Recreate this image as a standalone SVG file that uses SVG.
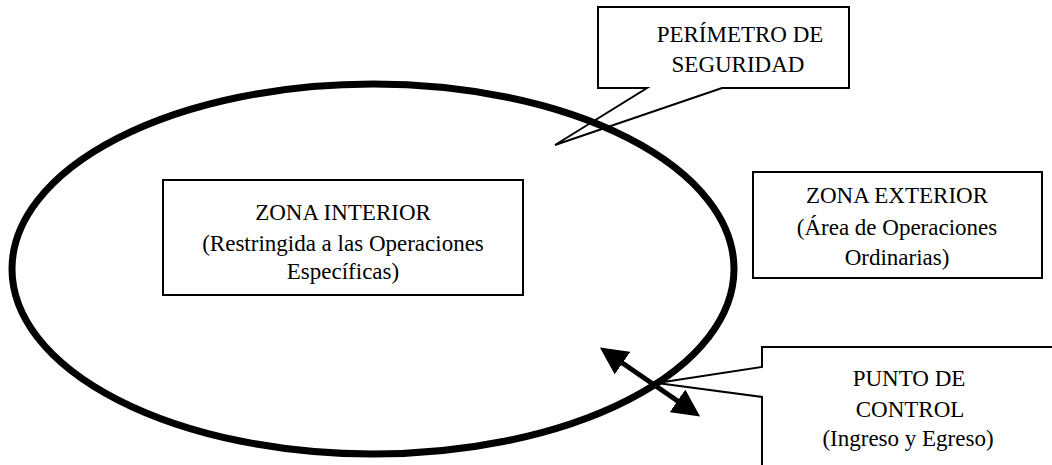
<svg xmlns="http://www.w3.org/2000/svg" width="1052" height="465" viewBox="0 0 1052 465" font-family="'Liberation Serif', 'Times New Roman', serif">
<style>
.box{fill:#fff;stroke:#000;stroke-width:2}
.callout{fill:none;stroke:#000;stroke-width:2;stroke-linejoin:miter}
.t{font-family:'Liberation Serif','Times New Roman',serif;font-size:23px;fill:#000;text-anchor:middle}
</style>
<defs>
<marker id="ah" viewBox="0 0 10 10" refX="2" refY="5" markerWidth="5.5" markerHeight="5.5" orient="auto-start-reverse" markerUnits="strokeWidth">
<path d="M0,0 L10,5 L0,10 Z" fill="#000"/>
</marker>
</defs>
<g id="zona-interior">
<rect class="box" x="163" y="180" width="360" height="115"/>
<text class="t" x="343" y="220">ZONA INTERIOR</text>
<text class="t" x="343" y="251">(Restringida a las Operaciones</text>
<text class="t" x="343" y="279">Específicas)</text>
</g>
<g id="zona-exterior">
<rect class="box" x="753" y="172" width="289" height="106"/>
<text class="t" x="897" y="203">ZONA EXTERIOR</text>
<text class="t" x="897" y="235">(Área de Operaciones</text>
<text class="t" x="897" y="265">Ordinarias)</text>
</g>
<g id="perimetro">
<path class="callout" d="M598,7 H849 V88 H722 L555,145 L647,88 H598 Z"/>
<text class="t" x="740" y="42">PERÍMETRO  DE</text>
<text class="t" x="738" y="72">SEGURIDAD</text>
</g>
<g id="punto-control">
<path class="callout" d="M1060,347 H762 V367 L657,383 L762,397 V470"/>
<text class="t" x="909" y="386">PUNTO  DE</text>
<text class="t" x="910" y="417">CONTROL</text>
<text class="t" x="908" y="446">(Ingreso y Egreso)</text>
</g>
<g id="connectors">
<ellipse cx="373" cy="269" rx="361" ry="185" fill="none" stroke="#000" stroke-width="7"/>
<line x1="618" y1="360" x2="682" y2="404" stroke="#000" stroke-width="5" marker-start="url(#ah)" marker-end="url(#ah)"/>
</g>
</svg>
